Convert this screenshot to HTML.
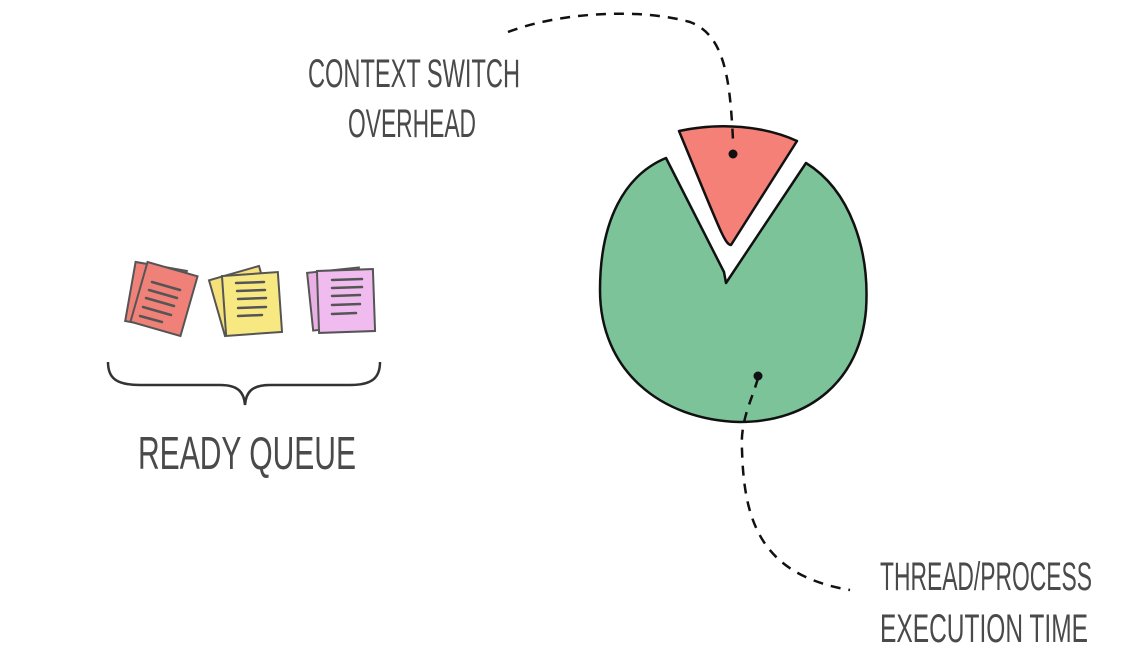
<!DOCTYPE html>
<html><head><style>
html,body{margin:0;padding:0;background:#fff;}
svg{display:block}
text{font-family:"Liberation Sans Narrow","Liberation Sans",sans-serif;fill:#4a4a4a;}
</style></head><body>
<svg width="1129" height="667" viewBox="0 0 1129 667" xmlns="http://www.w3.org/2000/svg">
<text x="308" y="87" font-size="40" textLength="212" lengthAdjust="spacingAndGlyphs">CONTEXT SWITCH</text>
<text x="348" y="137" font-size="40" textLength="128" lengthAdjust="spacingAndGlyphs">OVERHEAD</text>
<text x="138" y="469" font-size="46" textLength="218" lengthAdjust="spacingAndGlyphs">READY QUEUE</text>
<text x="880" y="590" font-size="40" textLength="212" lengthAdjust="spacingAndGlyphs">THREAD/PROCESS</text>
<text x="880" y="642" font-size="40" textLength="208" lengthAdjust="spacingAndGlyphs">EXECUTION TIME</text>

<!-- pie green -->
<path d="M666,158 L724,272 L726,283 L806,163 C850,190 870,250 866,310 C860,380 810,422 740,422 C660,420 600,370 600,290 C600,220 625,175 666,158 Z" fill="#7cc39a" stroke="#111" stroke-width="2.5" stroke-linejoin="round"/>
<path d="M679,131 C720,122 765,126 797,141 L731,245 C725,245 720,230 679,131 Z" fill="#f58078" stroke="#111" stroke-width="2.5" stroke-linejoin="round"/>

<!-- dashed leaders -->
<path d="M508,32 C560,12 640,8 690,22 C725,35 730,80 733,140" fill="none" stroke="#111" stroke-width="2.5" stroke-dasharray="10,8"/>
<path d="M758,378 C752,400 740,420 742,450 C744,520 760,575 850,590" fill="none" stroke="#111" stroke-width="2.5" stroke-dasharray="10,8"/>
<circle cx="733" cy="154" r="4.5" fill="#111"/>
<circle cx="758" cy="376" r="4.5" fill="#111"/>

<g stroke="#555" stroke-width="2">
<rect x="130" y="266" width="52" height="60" fill="#f08178" transform="rotate(10 156 296)"/>
<rect x="138" y="268" width="52" height="62" fill="#f08178" transform="rotate(16 164 299)"/>
<rect x="216" y="272" width="52" height="58" fill="#f6e07a" transform="rotate(-16 242 301)"/>
<rect x="224" y="274" width="56" height="60" fill="#f8e882" transform="rotate(-4 252 304)"/>
<rect x="310" y="270" width="52" height="58" fill="#eab0e6" transform="rotate(-6 336 299)"/>
<rect x="318" y="270" width="56" height="62" fill="#f0bbee" transform="rotate(-2 346 301)"/>
</g>
<g stroke="#555" stroke-width="2.5" stroke-linecap="round">
<path d="M152,282 L180,290 M149,290 L177,298 M146,298 L174,306 M143,307 L171,315 M140,316 L162,322"/>
<path d="M236,283 L264,282 M237,291 L265,290 M238,299 L266,298 M238,308 L266,307 M238,316 L262,315"/>
<path d="M332,280 L362,279 M332,288 L362,287 M332,296 L360,295 M332,305 L360,304 M332,314 L356,313"/>
</g>

<path d="M108,362 C108,378 116,385 140,385 L220,385 C238,385 244,392 245,405 C246,392 252,385 270,385 L350,385 C372,385 380,378 380,362" fill="none" stroke="#333" stroke-width="2.5"/>
</svg>
</body></html>
